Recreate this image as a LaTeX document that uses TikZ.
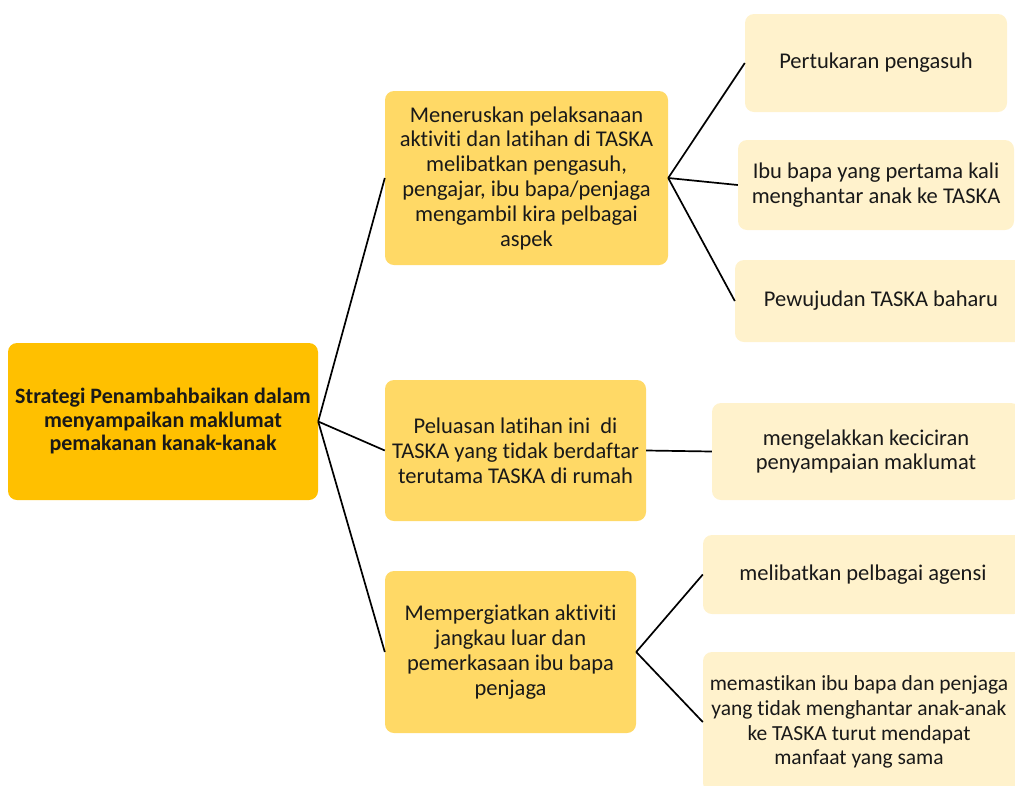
\documentclass[tikz,border=0pt]{standalone}
\usepackage{fontspec}
\setmainfont{Carlito}[Ligatures={NoCommon}]
\definecolor{rootfill}{HTML}{FFC000}
\definecolor{midfill}{HTML}{FFD966}
\definecolor{leaffill}{HTML}{FFF2CC}
\begin{document}
\begin{tikzpicture}[x=1pt,y=-1pt,
  box/.style={rounded corners=9pt,inner sep=0pt,align=center,text=black!90,
    font=\fontsize{22.5}{24.8}\selectfont},
  rootbox/.style={box,fill=rootfill,minimum width=310pt,minimum height=157pt,
    font=\fontsize{22}{23.5}\selectfont\bfseries},
  midbox/.style={box,fill=midfill},
  leafbox/.style={box,fill=leaffill},
  link/.style={line width=1.7pt,black}]
\useasboundingbox (0,0) rectangle (1015,785);
% root
\node[rootbox] (root) at (163,421.5) {Strategi Penambahbaikan dalam\\menyampaikan maklumat\\pemakanan kanak-kanak};
% middle level
\node[midbox,minimum width=283pt,minimum height=174pt] (act) at (526.5,178) {Meneruskan pelaksanaan\\aktiviti dan latihan di TASKA\\melibatkan pengasuh,\\pengajar, ibu bapa/penjaga\\mengambil kira pelbagai\\aspek};
\node[midbox,minimum width=261pt,minimum height=141pt] (ext) at (515.5,450.5) {Peluasan latihan ini~~di\\TASKA yang tidak berdaftar\\terutama TASKA di rumah};
\node[midbox,minimum width=251pt,minimum height=162pt] (out) at (510.5,652) {Mempergiatkan aktiviti\\jangkau luar dan\\pemerkasaan ibu bapa\\penjaga};
% leaves
\node[leafbox,minimum width=262pt,minimum height=98pt] (swap) at (876,63) {Pertukaran pengasuh};
\node[leafbox,minimum width=276pt,minimum height=90pt] (first) at (876,185) {Ibu bapa yang pertama kali\\menghantar anak ke TASKA};
\node[leafbox,minimum width=292pt,minimum height=82pt] (new) at (881,301) {Pewujudan TASKA baharu};
\node[leafbox,minimum width=308pt,minimum height=97pt] (miss) at (866,451.5) {mengelakkan keciciran\\penyampaian maklumat};
\node[leafbox,minimum width=320pt,minimum height=79pt] (agency) at (863,574.5) {melibatkan pelbagai agensi};
\node[leafbox,minimum width=320pt,minimum height=140pt] (same) at (863,722) {};
\node[font=\fontsize{21.5}{24.8}\selectfont,align=center,text=black!90,inner sep=0pt] (sametext) at (859,722) {memastikan ibu bapa dan penjaga\\yang tidak menghantar anak-anak\\ke TASKA turut mendapat\\manfaat yang sama};
% links
\draw[link] (root.east) -- (act.west);
\draw[link] (root.east) -- (ext.west);
\draw[link] (root.east) -- (out.west);
\draw[link] (act.east) -- (swap.west);
\draw[link] (act.east) -- (first.west);
\draw[link] (act.east) -- (new.west);
\draw[link] (ext.east) -- (miss.west);
\draw[link] (out.east) -- (agency.west);
\draw[link] (out.east) -- (same.west);
\end{tikzpicture}
\end{document}
